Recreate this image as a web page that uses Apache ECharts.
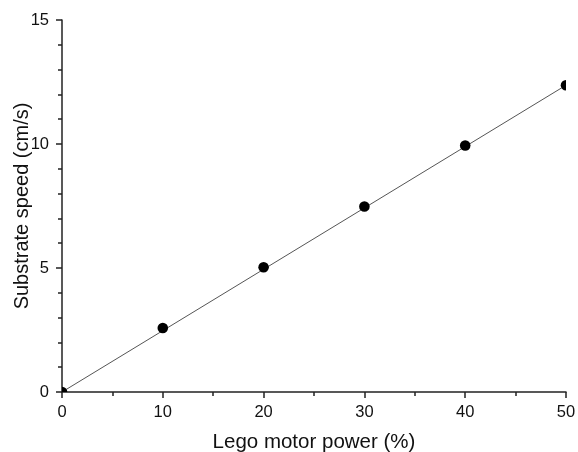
<!DOCTYPE html>
<html>
<head>
<meta charset="utf-8">
<script src="https://cdn.jsdelivr.net/npm/echarts@6/dist/echarts.min.js"></script>
<style>
  html, body { margin: 0; padding: 0; background: #fff; }
  #main { width: 578px; height: 452px; }
</style>
</head>
<body>
<div id="main"></div>
<script>
// measured points
const motorPower = [0, 10, 20, 30, 40, 50];
const substrateSpeed = [0, 2.58, 5.03, 7.48, 9.94, 12.37];
// linear fit line end points
const fitX = [0, 50];
const fitY = [0, 12.37];

const axisColor = '#222';
const font = '"Liberation Sans", Arial, sans-serif';

const myChart = echarts.init(document.getElementById('main'));

const option = {
    animation: false,
    backgroundColor: '#fff',
    grid: {
        left: 62,
        right: 12,
        top: 20,
        bottom: 60,
        containLabel: false,
        outerBoundsMode: 'none'
    },
    xAxis: {
        type: 'value',
        min: 0,
        max: 50,
        interval: 10,
        name: 'Lego motor power (%)',
        nameLocation: 'middle',
        nameGap: 40,
        nameMoveOverlap: false,
        nameTextStyle: { fontFamily: font, fontSize: 20.5, color: '#111' },
        axisLine: { show: true, lineStyle: { color: axisColor, width: 1.5 } },
        axisTick: { show: true, length: 6, lineStyle: { color: axisColor, width: 1.5 } },
        minorTick: { show: true, splitNumber: 2, length: 4, lineStyle: { color: axisColor, width: 1.5 } },
        axisLabel: { fontFamily: font, fontSize: 16.5, color: '#111', margin: 12 },
        splitLine: { show: false }
    },
    yAxis: {
        type: 'value',
        min: 0,
        max: 15,
        interval: 5,
        name: 'Substrate speed (cm/s)',
        nameLocation: 'middle',
        nameGap: 30,
        nameMoveOverlap: false,
        nameTextStyle: { fontFamily: font, fontSize: 20, color: '#111' },
        axisLine: { show: true, lineStyle: { color: axisColor, width: 1.5 } },
        axisTick: { show: true, length: 6, lineStyle: { color: axisColor, width: 1.5 } },
        minorTick: { show: true, splitNumber: 5, length: 4, lineStyle: { color: axisColor, width: 1.5 } },
        axisLabel: { fontFamily: font, fontSize: 16.5, color: '#111', margin: 13 },
        splitLine: { show: false }
    },
    series: [
        {
            type: 'line',
            data: fitX.map((x, i) => [x, fitY[i]]),
            showSymbol: false,
            symbol: 'none',
            lineStyle: { color: '#555', width: 1 },
            clip: true,
            z: 2
        },
        {
            // dots, clipped to the plot area like the original
            type: 'custom',
            data: motorPower.map((x, i) => [x, substrateSpeed[i]]),
            clip: true,
            z: 3,
            renderItem: function (params, api) {
                const p = api.coord([api.value(0), api.value(1)]);
                return {
                    type: 'circle',
                    shape: { cx: p[0], cy: p[1], r: 5.3 },
                    style: { fill: '#000' }
                };
            }
        }
    ]
};

myChart.setOption(option);
</script>
</body>
</html>
